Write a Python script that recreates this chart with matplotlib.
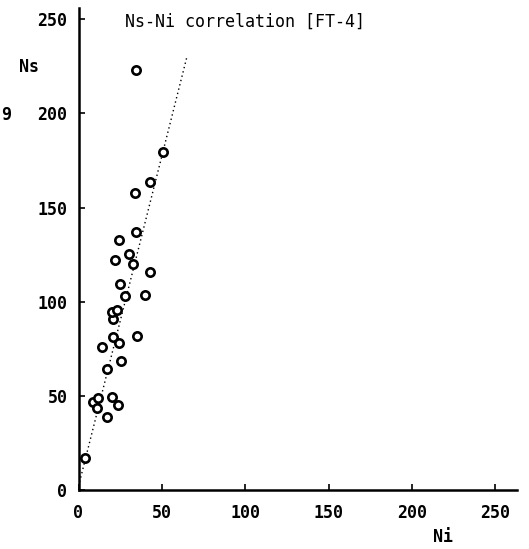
import numpy as np
import matplotlib.pyplot as plt

# Ni, Ns counts
ni = [3.8, 8.5, 11.4, 11.2, 20.2, 23.7, 17.0, 17.0, 25.2, 14.0,
      20.4, 24.2, 34.8, 20.8, 20.0, 22.8, 27.6, 39.8, 24.6, 42.8,
      32.8, 21.8, 30.0, 24.4, 34.4, 33.6, 42.8, 50.8, 34.4]
ns = [17.2, 46.5, 48.7, 43.4, 49.6, 45.1, 38.7, 64.2, 68.5, 76.1,
      81.2, 78.0, 81.9, 90.8, 94.3, 95.4, 103.2, 103.4, 109.2, 116.0,
      119.8, 122.2, 125.2, 132.6, 136.9, 157.8, 163.5, 179.4, 223.0]
# dotted reference line
line_x = [0, 65]
line_y = [2, 230]
ticks = [0, 50, 100, 150, 200, 250]

W, H = 529, 549
fig = plt.figure(figsize=(W / 100, H / 100), dpi=100)
ax = fig.add_axes([78.5 / W, 59 / H, (517 - 78.5) / W, (541 - 59) / H])

ax.plot(line_x, line_y, color='black', lw=1, linestyle=(0, (1, 2.2)))
ax.plot(ni, ns, 'o', ms=6, mfc='white', mec='black', mew=1.9)

ax.set_xlim(0, 263)
ax.set_ylim(0, 256)
ax.set_xticks(ticks)
ax.set_yticks(ticks)
for s in ['top', 'right']:
    ax.spines[s].set_visible(False)
ax.spines['left'].set_linewidth(1.8)
ax.spines['bottom'].set_linewidth(1.8)
ax.tick_params(direction='in', length=4, width=1.2)
ax.tick_params(axis='y', pad=8)
ax.tick_params(axis='x', pad=10)
for lab in ax.get_xticklabels() + ax.get_yticklabels():
    lab.set_fontfamily('DejaVu Sans Mono')
    lab.set_fontweight('bold')
    lab.set_fontsize(12)

fig.text(245 / W, 1 - 22 / H, 'Ns-Ni correlation [FT-4]', ha='center', va='center',
         family='DejaVu Sans Mono', fontsize=12)
fig.text(29 / W, 1 - 67 / H, 'Ns', ha='center', va='center',
         family='DejaVu Sans Mono', fontweight='bold', fontsize=12)
fig.text(443 / W, 1 - 537 / H, 'Ni', ha='center', va='center',
         family='DejaVu Sans Mono', fontweight='bold', fontsize=12)
fig.text(1 / W, 1 - 115 / H, '9', ha='left', va='center',
         family='DejaVu Sans Mono', fontweight='bold', fontsize=12)

fig.savefig('out.png', dpi=100)
